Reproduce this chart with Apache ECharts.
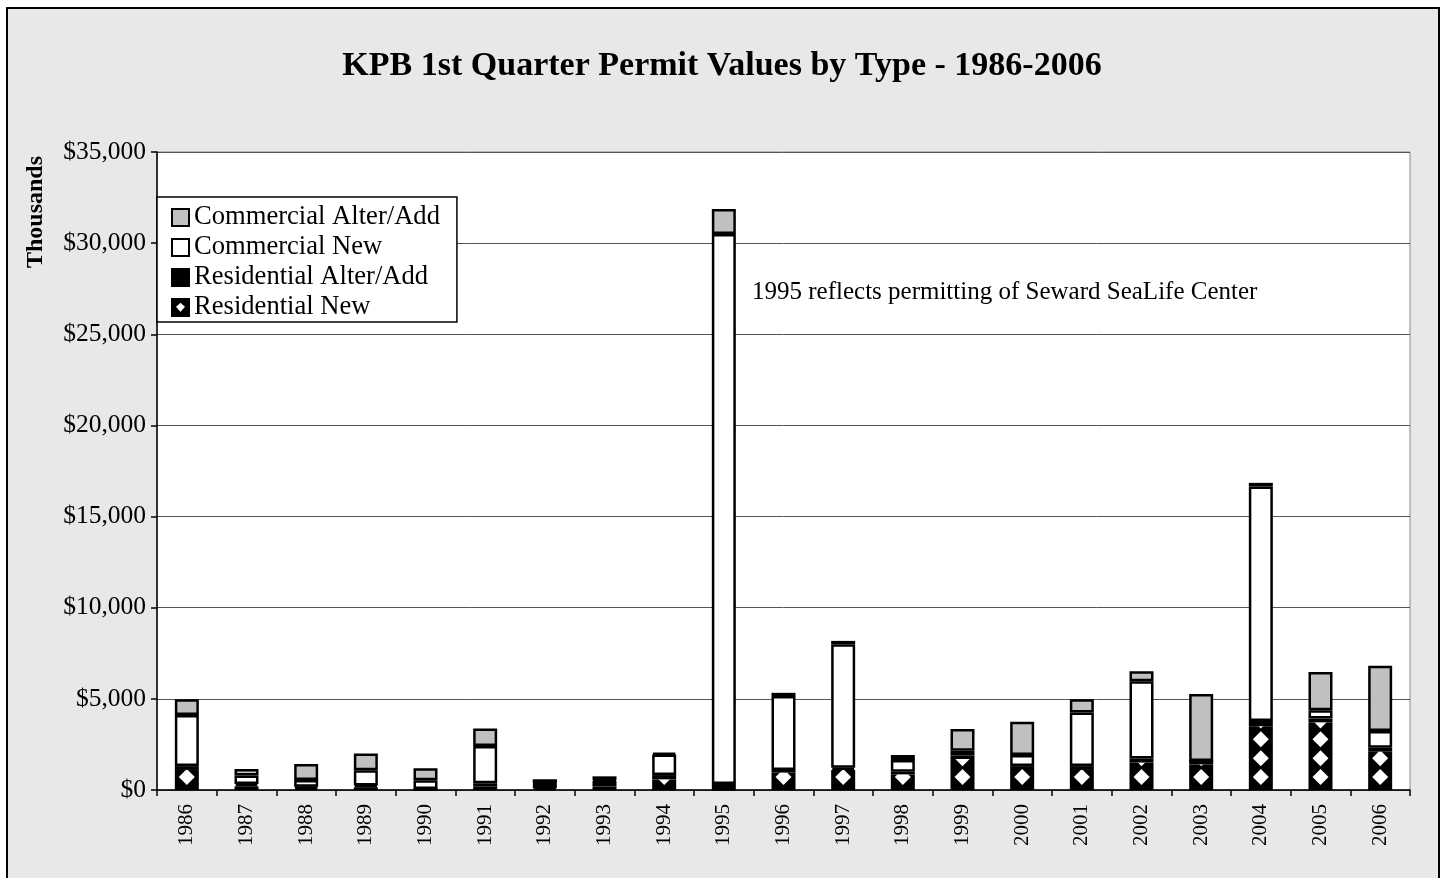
<!DOCTYPE html>
<html>
<head>
<meta charset="utf-8">
<script src="https://cdn.jsdelivr.net/npm/echarts@6/dist/echarts.min.js"></script>
<style>
html,body{margin:0;padding:0;background:#fff;}
#c{width:1444px;height:878px;}
</style>
</head>
<body>
<div id="c"></div>
<script>
const years = ['1986','1987','1988','1989','1990','1991','1992','1993','1994','1995','1996','1997','1998','1999','2000','2001','2002','2003','2004','2005','2006'];
// values in thousands of dollars
const residentialNew      = [1100, 200, 100, 150,  30, 200, 100, 200, 580,   50,  950, 1100, 850, 1700, 1150, 1100, 1500, 1400,  3500, 3700, 2100];
const residentialAlterAdd = [ 210, 130,  80, 100,  20, 170, 410, 300, 240,  280,  150,  120, 150,  200,  160,  210,  230,  190,   280,  220,  220];
const commercialNew       = [2810, 470, 370, 830, 480,2040,   0,  50,1130,30170, 4050, 6780, 640,  250,  610, 2940, 4240,    0, 12870,  460,  910];
const commercialAlterAdd  = [ 860, 350, 870, 920, 670, 970,   0, 200,  90, 1370,  180,  180, 280, 1190, 1820,  730,  550, 3670,   200, 2100, 3580];
const yTicks = [0, 5000, 10000, 15000, 20000, 25000, 30000, 35000];

const serif = '"Liberation Serif", "Times New Roman", serif';
const chart = echarts.init(document.getElementById('c'), null, {renderer:'canvas'});
const border = {borderColor:'#000', borderWidth:2.5};
function s(name, data, style){
  return {name, type:'bar', stack:'t', data, barWidth:24, itemStyle:Object.assign({}, border, style), z:2};
}
chart.setOption({
  backgroundColor:'#fff',
  animation:false,
  graphic:[
    {type:'rect', left:6, top:7, shape:{width:1432, height:900}, style:{fill:'#e8e8e8', stroke:'#000', lineWidth:2}, z:-10},
    {type:'text', x:36, y:212, rotation:Math.PI/2, style:{text:'Thousands', font:'bold 24px '+serif, fill:'#000', align:'center', verticalAlign:'middle'}, z:10},
    {type:'text', x:752, y:292, style:{text:'1995 reflects permitting of Seward SeaLife Center', font:'25px '+serif, fill:'#000', align:'left', verticalAlign:'middle'}, z:10}
  ],
  title:{
    text:'KPB 1st Quarter Permit Values by Type - 1986-2006',
    left:'center', top:44,
    textStyle:{fontFamily:serif, fontSize:34, fontWeight:'bold', color:'#000'}
  },
  legend:{
    orient:'vertical', left:157, top:197,
    data:[
      {name:'Commercial Alter/Add', icon:'rect'},
      {name:'Commercial New', icon:'rect'},
      {name:'Residential Alter/Add', icon:'rect'},
      {name:'Residential New', icon:'path://M0,0H20V20H0Z M10,3 L3,9 L10,17 L17,9 Z'}
    ],
    backgroundColor:'#fff', borderColor:'#000', borderWidth:1.5,
    padding:[7,17,1,14], itemGap:3, itemWidth:17, itemHeight:17,
    textStyle:{fontFamily:serif, fontSize:26.6, lineHeight:27, color:'#000'},
    borderRadius:0
  },
  grid:{left:157, right:34, top:152, bottom:88, show:true, backgroundColor:'#fff', borderColor:'#888', borderWidth:1},
  xAxis:{
    type:'category', data:years,
    axisLine:{lineStyle:{color:'#000', width:1.5}},
    axisTick:{show:true, alignWithLabel:false, length:6, lineStyle:{color:'#000', width:1.5}},
    axisLabel:{rotate:90, fontFamily:serif, fontSize:21, color:'#000', margin:14}
  },
  yAxis:{
    type:'value', min:0, max:35000, interval:5000,
    axisLine:{show:true, lineStyle:{color:'#000', width:1.5}},
    axisTick:{show:true, length:6, lineStyle:{color:'#000', width:1.5}},
    splitLine:{lineStyle:{color:'#555', width:1}},
    axisLabel:{fontFamily:serif, fontSize:25.5, color:'#000', margin:11,
      formatter:v=> yTicks.indexOf(v)>=0 ? '$'+v.toLocaleString('en-US') : ''}
  },
  series:[
    s('Residential New', residentialNew, {color:'#000'}),
    s('Residential Alter/Add', residentialAlterAdd, {color:'#000'}),
    s('Commercial New', commercialNew, {color:'#fff'}),
    s('Commercial Alter/Add', commercialAlterAdd, {color:'#c0c0c0'}),
    {
      name:'Residential New pattern', type:'pictorialBar', data:residentialNew,
      symbol:'diamond', symbolRepeat:true, symbolSize:[16,16], symbolMargin:1.5,
      symbolClip:true, symbolOffset:[0,-5], itemStyle:{color:'#fff'}, z:5,
      silent:true, legendHoverLink:false
    }
  ]
});
</script>
</body>
</html>
